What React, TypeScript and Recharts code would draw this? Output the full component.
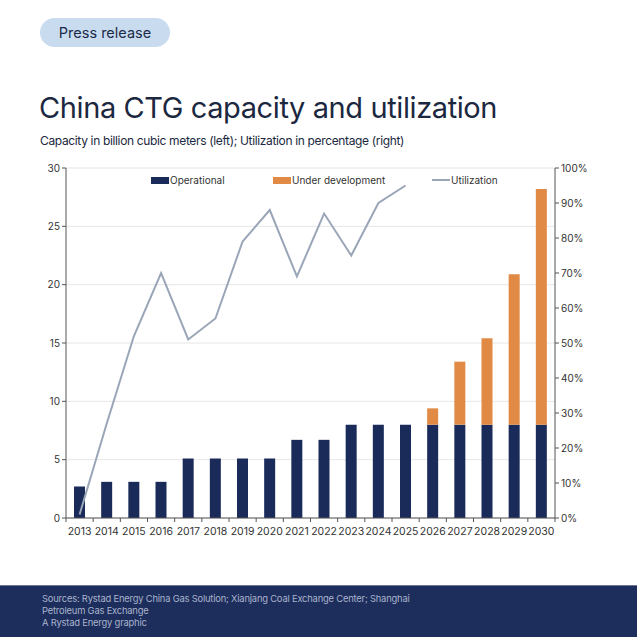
import { Bar, CartesianGrid, ComposedChart, Legend, Line, XAxis, YAxis } from 'recharts';

const years = ['2013', '2014', '2015', '2016', '2017', '2018', '2019', '2020', '2021', '2022', '2023', '2024', '2025', '2026', '2027', '2028', '2029', '2030'];
const operational = [2.7, 3.1, 3.1, 3.1, 5.1, 5.1, 5.1, 5.1, 6.7, 6.7, 8, 8, 8, 8, 8, 8, 8, 8];
const underDevelopment = [0, 0, 0, 0, 0, 0, 0, 0, 0, 0, 0, 0, 0, 1.4, 5.4, 7.4, 12.9, 20.2];
const utilization = [1, 27, 52, 70, 51, 57, 79, 88, 69, 87, 75, 90, 95, null, null, null, null, null];
const leftTicks = [0, 5, 10, 15, 20, 25, 30];
const rightTicks = [0, 10, 20, 30, 40, 50, 60, 70, 80, 90, 100];

const data = years.map((year, i) => ({
  year,
  operational: operational[i],
  underDevelopment: underDevelopment[i],
  utilization: utilization[i],
}));

const NAVY = '#1b2b59';
const ORANGE = '#e08a46';
const GREY_LINE = '#9aa6b8';
const TEXT = '#333';
const FONT = 'Inter, "Liberation Sans", sans-serif';

const HALF_BAND = (555 - 66) / years.length / 2;

function YearTick(props: any) {
  const { x, y, payload, index } = props;
  return (
    <g>
      <line x1={x - HALF_BAND} x2={x - HALF_BAND} y1={y - 8} y2={y - 4} stroke="#555" />
      {index === years.length - 1 && (
        <line x1={x + HALF_BAND} x2={x + HALF_BAND} y1={y - 8} y2={y - 4} stroke="#555" />
      )}
      <text x={x} y={y + 9} textAnchor="middle" fill={TEXT} fontSize={10.5} fontFamily={FONT}>
        {payload.value}
      </text>
    </g>
  );
}

function ChartLegend() {
  const item = (icon: any, label: string, width: number) => (
    <div style={{ display: 'flex', alignItems: 'center', width }}>
      {icon}
      <span style={{ marginLeft: 1 }}>{label}</span>
    </div>
  );
  return (
    <div style={{ display: 'flex', fontSize: 10, color: TEXT, fontFamily: FONT }}>
      {item(<div style={{ width: 18, height: 7, background: NAVY }} />, 'Operational', 122)}
      {item(<div style={{ width: 18, height: 7, background: ORANGE }} />, 'Under development', 159)}
      {item(<div style={{ width: 18, height: 2, background: GREY_LINE }} />, 'Utilization', 80)}
    </div>
  );
}

export default function App() {
  return (
    <div style={{ position: 'absolute', left: 0, top: 0, width: 637, height: 637, background: '#fff', fontFamily: FONT, overflow: 'hidden' }}>
      <div
        style={{
          position: 'absolute',
          left: 40,
          top: 18,
          width: 130,
          height: 29,
          borderRadius: 15,
          background: '#c9dcef',
          color: '#1b2b4a',
          fontSize: 14.5,
          display: 'flex',
          alignItems: 'center',
          justifyContent: 'center',
        }}
      >
        Press release
      </div>
      <div style={{ position: 'absolute', left: 39, top: 90, fontSize: 29, color: '#1b2840', letterSpacing: -0.4 }}>
        China CTG capacity and utilization
      </div>
      <div style={{ position: 'absolute', left: 40, top: 133, fontSize: 12, color: '#1b2840', letterSpacing: -0.35 }}>
        Capacity in billion cubic meters (left); Utilization in percentage (right)
      </div>

      <div style={{ position: 'absolute', left: 0, top: 150 }}>
        <ComposedChart width={637} height={400} data={data} margin={{ top: 6, right: 42, bottom: 2, left: 26 }} barCategoryGap={0}>
          <CartesianGrid yAxisId="left" vertical={false} stroke="#e6e6e6" />
          <XAxis
            dataKey="year"
            tick={<YearTick />}
            tickLine={false}
            axisLine={{ stroke: '#555' }}
            height={30}
            interval={0}
          />
          <YAxis
            yAxisId="left"
            domain={[0, 30]}
            ticks={leftTicks}
            width={40}
            axisLine={{ stroke: '#555' }}
            tickLine={{ stroke: '#555' }}
            tickSize={4}
            tick={{ fill: TEXT, fontSize: 10, fontFamily: FONT }}
          />
          <YAxis
            yAxisId="right"
            orientation="right"
            domain={[0, 100]}
            ticks={rightTicks}
            tickFormatter={(v: number) => `${v}%`}
            width={40}
            axisLine={{ stroke: '#555' }}
            tickLine={{ stroke: '#555' }}
            tickSize={4}
            tick={{ fill: TEXT, fontSize: 10, fontFamily: FONT }}
          />
          <Legend verticalAlign="top" content={<ChartLegend />} wrapperStyle={{ top: 24, left: 151, width: 400 }} />
          <Bar yAxisId="left" dataKey="operational" stackId="cap" fill={NAVY} barSize={11} isAnimationActive={false} />
          <Bar yAxisId="left" dataKey="underDevelopment" stackId="cap" fill={ORANGE} barSize={11} isAnimationActive={false} />
          <Line
            yAxisId="right"
            dataKey="utilization"
            stroke={GREY_LINE}
            strokeWidth={2}
            dot={false}
            type="linear"
            isAnimationActive={false}
          />
        </ComposedChart>
      </div>

      <div style={{ position: 'absolute', left: 0, top: 585, width: 637, height: 52, background: '#1d2d5c', borderTop: '1px solid #6b7896' }}>
        <div style={{ position: 'absolute', left: 42, top: 7, fontSize: 9.4, lineHeight: '12px', color: '#a9b4cc', letterSpacing: -0.2 }}>
          Sources: Rystad Energy China Gas Solution; Xianjang Coal Exchange Center; Shanghai
          <br />
          Petroleum Gas Exchange
          <br />
          A Rystad Energy graphic
        </div>
      </div>
    </div>
  );
}
